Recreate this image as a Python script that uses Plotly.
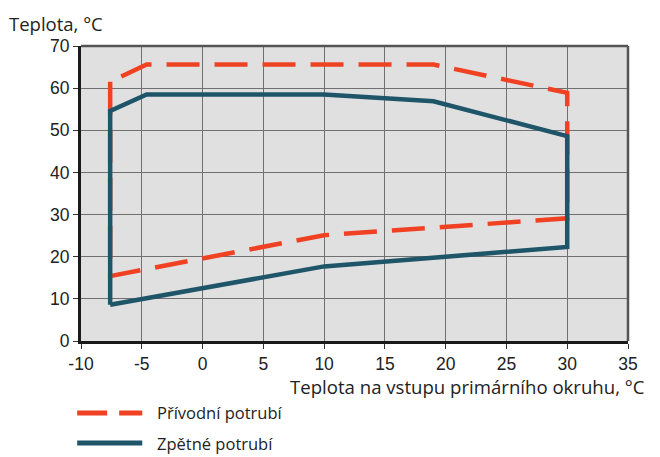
import plotly.graph_objects as go

# Data
supply_x = [-7.6, -7.6, 10, 30, 30, 19, -4.6, -7.6]
supply_y = [61.5, 15.4, 25.1, 29.1, 58.9, 65.6, 65.6, 61.5]
return_x = [-7.6, -7.6, -4.6, 10, 19, 30, 30, 10, -7.6]
return_y = [8.6, 54.6, 58.5, 58.5, 56.9, 48.6, 22.3, 17.7, 8.6]
x_ticks = [-10, -5, 0, 5, 10, 15, 20, 25, 30, 35]
y_ticks = [0, 10, 20, 30, 40, 50, 60, 70]
series_names = ["Přívodní potrubí", "Zpětné potrubí"]

RED = "#F04123"
BLUE = "#1E5569"
FONT = "Open Sans, Noto Sans, sans-serif"
TICKFONT = "Liberation Sans, Arial, sans-serif"
TXT = "#222222"

fig = go.Figure()
fig.add_trace(go.Scatter(x=supply_x, y=supply_y, mode="lines", name=series_names[0],
                         line=dict(color=RED, width=4.5, dash="33px,15px"), showlegend=False))
fig.add_trace(go.Scatter(x=return_x, y=return_y, mode="lines", name=series_names[1],
                         line=dict(color=BLUE, width=4.5), showlegend=False))

axis_common = dict(showgrid=True, gridcolor="#707070", gridwidth=1.3, zeroline=False,
                   showline=True, linecolor="#1a1a1a", linewidth=3,
                   ticks="outside", ticklen=5, tickcolor="#333", tickwidth=1.3,
                   tickfont=dict(size=17.5, color=TXT, family=TICKFONT))

fig.update_layout(
    width=652, height=449,
    margin=dict(l=73, r=32, t=38, b=116),
    paper_bgcolor="white", plot_bgcolor="#E0E0E0",
    font=dict(family=FONT, size=16, color=TXT),
    xaxis=dict(range=[-10, 35], tickvals=x_ticks, ticktext=[str(v) for v in x_ticks], **axis_common),
    yaxis=dict(range=[0, 70], tickvals=y_ticks, ticktext=[str(v) for v in y_ticks], **axis_common),
)

# top and right frame lines (gray)
fig.add_shape(type="line", xref="paper", yref="paper", x0=0, x1=1, y0=1, y1=1,
              line=dict(color="#555555", width=2.5))
fig.add_shape(type="line", xref="paper", yref="paper", x0=1, x1=1, y0=0, y1=1,
              line=dict(color="#555555", width=2.5))

# axis titles
fig.add_annotation(text="Teplota, °C", xref="paper", yref="paper", x=-0.135, y=1.127,
                   xanchor="left", yanchor="top", showarrow=False,
                   font=dict(size=18.5, color=TXT, family=FONT))
fig.add_annotation(text="Teplota na vstupu primárního okruhu, °C", xref="paper", yref="paper",
                   x=0.378, y=-0.153, xanchor="left", yanchor="middle", showarrow=False,
                   font=dict(size=18.6, color=TXT, family=FONT))

# custom legend
fig.add_shape(type="line", xref="paper", yref="paper", x0=-0.007, x1=0.112, y0=-0.244, y1=-0.244,
              line=dict(color=RED, width=5, dash="30px,12px"))
fig.add_shape(type="line", xref="paper", yref="paper", x0=-0.007, x1=0.112, y0=-0.346, y1=-0.346,
              line=dict(color=BLUE, width=5))
fig.add_annotation(text=series_names[0], xref="paper", yref="paper", x=0.136, y=-0.244,
                   xanchor="left", yanchor="middle", showarrow=False,
                   font=dict(size=16.5, color=TXT, family=FONT))
fig.add_annotation(text=series_names[1], xref="paper", yref="paper", x=0.136, y=-0.346,
                   xanchor="left", yanchor="middle", showarrow=False,
                   font=dict(size=16.5, color=TXT, family=FONT))

fig.write_html("out.html")
